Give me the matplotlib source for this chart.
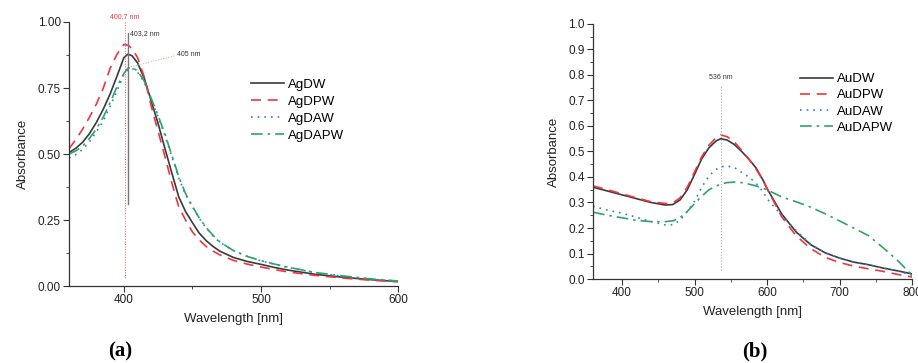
import numpy as np
import matplotlib
matplotlib.use("Agg")
import matplotlib.pyplot as plt
from matplotlib.ticker import MultipleLocator, FormatStrFormatter

plt.rcParams['font.family'] = ['Liberation Sans', 'DejaVu Sans']

# ---- data, panel (a): Ag samples ----
wl_a = [360, 365, 370, 375, 380, 385, 390, 395, 400, 403, 406, 410, 415, 420, 425,
        430, 435, 440, 445, 450, 455, 460, 465, 470, 480, 490, 500, 510, 520, 540,
        560, 580, 600]
ag_dw = [0.505, 0.522, 0.545, 0.578, 0.620, 0.670, 0.728, 0.795, 0.865, 0.878, 0.872,
         0.845, 0.785, 0.700, 0.615, 0.520, 0.428, 0.338, 0.282, 0.240, 0.200, 0.172,
         0.150, 0.132, 0.108, 0.093, 0.082, 0.070, 0.060, 0.044, 0.033, 0.024, 0.017]
ag_dpw = [0.520, 0.555, 0.595, 0.640, 0.690, 0.750, 0.825, 0.878, 0.915, 0.912, 0.900,
          0.865, 0.790, 0.680, 0.585, 0.490, 0.390, 0.300, 0.250, 0.205, 0.174, 0.150,
          0.132, 0.118, 0.097, 0.083, 0.072, 0.062, 0.053, 0.040, 0.030, 0.022, 0.016]
ag_daw = [0.485, 0.498, 0.518, 0.547, 0.585, 0.625, 0.680, 0.740, 0.800, 0.820, 0.825,
          0.810, 0.770, 0.705, 0.640, 0.570, 0.490, 0.410, 0.345, 0.300, 0.256, 0.220,
          0.190, 0.165, 0.134, 0.112, 0.095, 0.082, 0.070, 0.050, 0.037, 0.026, 0.018]
ag_dapw = [0.500, 0.512, 0.530, 0.560, 0.595, 0.640, 0.695, 0.755, 0.805, 0.825, 0.828,
           0.815, 0.775, 0.710, 0.645, 0.575, 0.495, 0.415, 0.350, 0.302, 0.258, 0.222,
           0.192, 0.167, 0.134, 0.112, 0.096, 0.083, 0.071, 0.051, 0.038, 0.027, 0.019]
labels_a = ["AgDW", "AgDPW", "AgDAW", "AgDAPW"]

# ---- data, panel (b): Au samples ----
wl_b = [360, 380, 400, 420, 440, 460, 470, 480, 490, 500, 510, 520, 530, 536, 545,
        555, 565, 575, 585, 595, 600, 620, 640, 660, 680, 700, 720, 740, 760, 780, 800]
au_dw = [0.360, 0.345, 0.330, 0.315, 0.300, 0.290, 0.292, 0.310, 0.350, 0.410, 0.472,
         0.515, 0.542, 0.550, 0.545, 0.527, 0.500, 0.470, 0.435, 0.385, 0.355, 0.256,
         0.185, 0.135, 0.103, 0.082, 0.066, 0.056, 0.043, 0.032, 0.020]
au_dpw = [0.365, 0.350, 0.334, 0.318, 0.303, 0.296, 0.298, 0.318, 0.360, 0.420, 0.480,
          0.525, 0.555, 0.565, 0.558, 0.537, 0.505, 0.470, 0.430, 0.385, 0.355, 0.245,
          0.170, 0.120, 0.085, 0.065, 0.050, 0.040, 0.030, 0.018, 0.008]
au_daw = [0.285, 0.270, 0.258, 0.242, 0.225, 0.212, 0.213, 0.230, 0.265, 0.305, 0.360,
          0.405, 0.430, 0.440, 0.443, 0.437, 0.418, 0.400, 0.375, 0.340, 0.315, 0.250,
          0.190, 0.137, 0.103, 0.082, 0.066, 0.056, 0.043, 0.032, 0.015]
au_dapw = [0.262, 0.250, 0.240, 0.230, 0.225, 0.225, 0.228, 0.240, 0.265, 0.295, 0.325,
           0.350, 0.365, 0.372, 0.378, 0.380, 0.378, 0.372, 0.365, 0.355, 0.350, 0.322,
           0.303, 0.282, 0.256, 0.228, 0.199, 0.170, 0.123, 0.073, 0.015]
labels_b = ["AuDW", "AuDPW", "AuDAW", "AuDAPW"]

# line styles shared by both panels
colors = ["#3a3a3a", "#f0363c", "#2d7fe0", "#2fa565"]
styles = ["-", (0, (6, 4)), (0, (1, 3)), (0, (7, 3, 1.5, 3))]

fig = plt.figure(figsize=(9.18, 3.63), dpi=100)
axa = fig.add_axes([0.0752, 0.2121, 0.3584, 0.7273])
axb = fig.add_axes([0.646, 0.2314, 0.3475, 0.7025])


def style_axis(ax):
    for s in ["top", "right"]:
        ax.spines[s].set_visible(False)
    for s in ["left", "bottom"]:
        ax.spines[s].set_color("#333333")
        ax.spines[s].set_linewidth(0.9)
    ax.tick_params(which="major", length=4, width=0.8, color="#333333",
                   labelsize=8.5, labelcolor="#222222", pad=2)
    ax.tick_params(which="minor", length=2, width=0.6, color="#333333")
    ax.set_xlabel("Wavelength [nm]", fontsize=9.5, color="#222222", labelpad=5)
    ax.set_ylabel("Absorbance", fontsize=9.5, color="#222222", labelpad=6)


# panel (a)
for y, lab, c, ls in zip([ag_dw, ag_dpw, ag_daw, ag_dapw], labels_a, colors, styles):
    axa.plot(wl_a, y, color=c, linestyle=ls, linewidth=1.2, label=lab)
axa.set_xlim(360, 600)
axa.set_ylim(0, 1.0)
axa.xaxis.set_major_locator(MultipleLocator(100))
axa.xaxis.set_minor_locator(MultipleLocator(50))
axa.yaxis.set_major_locator(MultipleLocator(0.25))
axa.yaxis.set_minor_locator(MultipleLocator(0.125))
axa.yaxis.set_major_formatter(FormatStrFormatter("%.2f"))
style_axis(axa)

axa.plot([400.7, 400.7], [0.03, 1.0], color="#f0363c", linestyle=":", linewidth=0.7,
         alpha=0.8, clip_on=False)
axa.text(400.7, 1.008, "400,7 nm", color="#f0363c", fontsize=5, ha="center",
         va="bottom")
axa.plot([403.2, 403.2], [0.31, 0.96], color="#777777", linewidth=1.0)
axa.text(404.8, 0.955, "403,2 nm", color="#333333", fontsize=5, ha="left",
         va="center")
axa.plot([405, 437], [0.83, 0.872], color="#7fcf8f", linestyle=":", linewidth=0.7)
axa.text(439, 0.875, "405 nm", color="#333333", fontsize=5, ha="left", va="center")

axa.legend(loc="upper left", bbox_to_anchor=(0.553, 0.785), frameon=False,
           fontsize=9.5, handlelength=2.5, handletextpad=0.3, labelspacing=0.35,
           borderpad=0, borderaxespad=0)

# panel (b)
for y, lab, c, ls in zip([au_dw, au_dpw, au_daw, au_dapw], labels_b, colors, styles):
    axb.plot(wl_b, y, color=c, linestyle=ls, linewidth=1.2, label=lab)
axb.set_xlim(360, 800)
axb.set_ylim(0, 1.0)
axb.xaxis.set_major_locator(MultipleLocator(100))
axb.xaxis.set_minor_locator(MultipleLocator(50))
axb.yaxis.set_major_locator(MultipleLocator(0.1))
axb.yaxis.set_minor_locator(MultipleLocator(0.05))
axb.yaxis.set_major_formatter(FormatStrFormatter("%.1f"))
style_axis(axb)

axb.plot([536, 536], [0.035, 0.76], color="#aaaaaa", linestyle=":", linewidth=0.8)
axb.text(536, 0.79, "536 nm", color="#333333", fontsize=5, ha="center", va="center")

axb.legend(loc="upper left", bbox_to_anchor=(0.649, 0.808), frameon=False,
           fontsize=9.5, handlelength=2.5, handletextpad=0.3, labelspacing=0.3,
           borderpad=0, borderaxespad=0)

# panel letters
fig.text(0.131, 0.032, "(a)", fontsize=15, fontweight="bold", ha="center",
         va="center", family=["Liberation Serif", "DejaVu Serif"])
fig.text(0.822, 0.032, "(b)", fontsize=15, fontweight="bold", ha="center",
         va="center", family=["Liberation Serif", "DejaVu Serif"])

fig.savefig("out.png", dpi=100)
